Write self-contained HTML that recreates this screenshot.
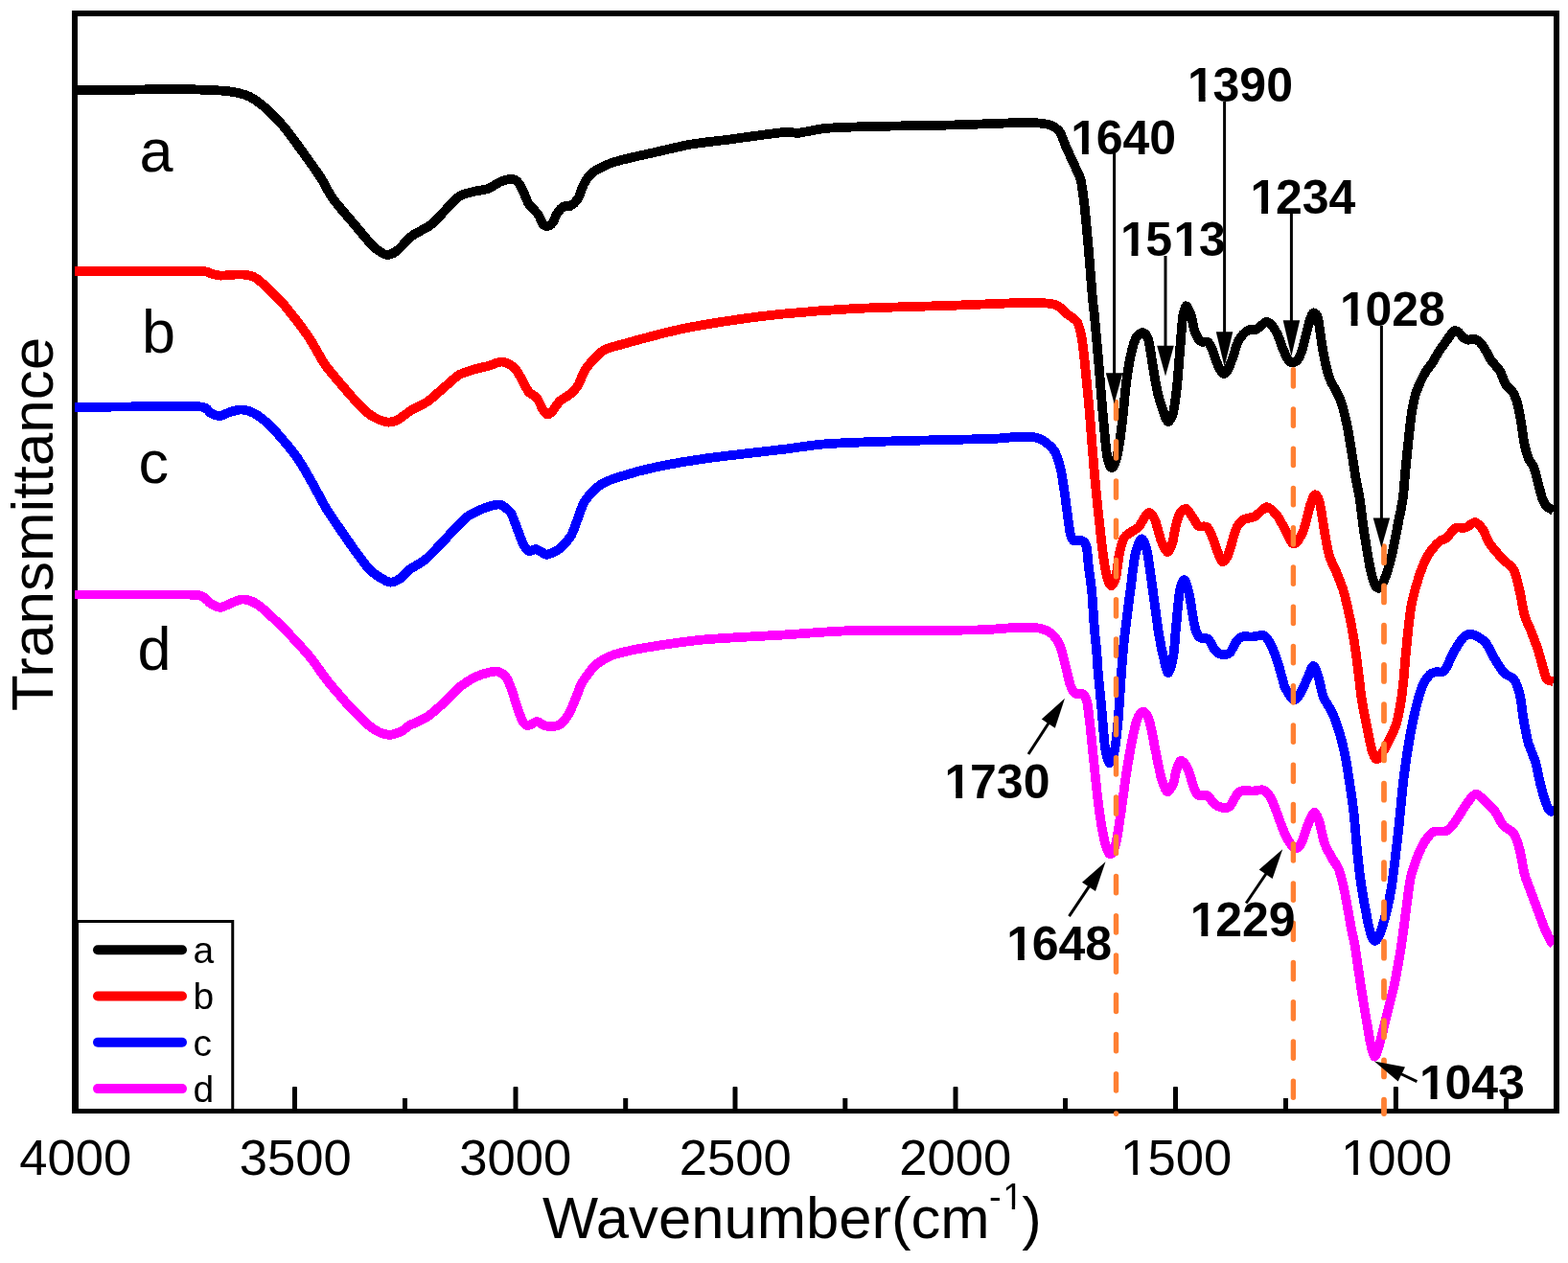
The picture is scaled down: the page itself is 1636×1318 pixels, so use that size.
<!DOCTYPE html>
<html lang="en"><head><meta charset="utf-8"><title>FTIR spectra</title>
<style>html,body{margin:0;padding:0;background:#fff;}body{width:1636px;height:1318px;overflow:hidden;}svg{display:block;}text{font-family:"Liberation Sans",sans-serif;fill:#000;}.b{font-weight:bold;font-size:50px;}.lab{font-size:63px;}.tick{font-size:52.6px;}.leg{font-size:39px;}.ax{font-size:61.6px;}.cv{fill:none;stroke-width:9.8;stroke-linejoin:round;stroke-linecap:butt;}.ar{stroke:#000;stroke-width:3;fill:none;}</style></head><body>
<svg width="1636" height="1318" viewBox="0 0 1636 1318" role="img" aria-label="FTIR transmittance spectra a-d versus wavenumber">
<defs><clipPath id="cp"><rect x="77.7" y="14" width="1543.6" height="1146"/></clipPath><clipPath id="ft"><path clip-rule="evenodd" d="M0 0H1636V1318H0ZM1119.40 154.70H1128.92V162.10H1119.40ZM1135.80 154.70H1144.70V162.10H1135.80ZM1241.20 100.40H1250.72V107.80H1241.20ZM1257.60 100.40H1266.50V107.80H1257.60ZM1171.00 261.40H1180.52V268.80H1171.00ZM1187.40 261.40H1196.30V268.80H1187.40ZM1226.63 261.40H1236.14V268.80H1226.63ZM1243.03 261.40H1251.92V268.80H1243.03ZM1306.60 216.70H1316.12V224.10H1306.60ZM1323.00 216.70H1331.90V224.10H1323.00ZM1400.10 333.60H1409.62V341.00H1400.10ZM1416.50 333.60H1425.40V341.00H1416.50ZM987.70 827.30H997.22V834.70H987.70ZM1004.10 827.30H1013.00V834.70H1004.10ZM1052.40 996.20H1061.92V1003.60H1052.40ZM1068.80 996.20H1077.70V1003.60H1068.80ZM1243.90 970.90H1253.42V978.30H1243.90ZM1260.30 970.90H1269.20V978.30H1260.30ZM1483.10 1141.50H1492.62V1148.90H1483.10ZM1499.50 1141.50H1508.40V1148.90H1499.50ZM1172.08 1221.65H1182.33V1227.90H1172.08ZM1186.96 1221.65H1196.78V1227.90H1186.96ZM1401.98 1221.65H1412.23V1227.90H1401.98ZM1416.86 1221.65H1426.68V1227.90H1416.86ZM1048.12 1258.35H1055.75V1263.50H1048.12ZM1059.10 1258.35H1066.41V1263.50H1059.10Z"/></clipPath></defs>
<rect x="0" y="0" width="1636" height="1318" fill="#fff"/>
<rect x="80.5" y="961.5" width="162.25" height="198" fill="none" stroke="#000" stroke-width="3"/>
<line x1="102" y1="991.2" x2="190" y2="991.2" stroke="#000000" stroke-width="10" stroke-linecap="round"/>
<text class="leg" x="201.4" y="1005.0">a</text>
<line x1="102" y1="1039.5" x2="190" y2="1039.5" stroke="#FF0000" stroke-width="10" stroke-linecap="round"/>
<text class="leg" x="201.4" y="1053.3">b</text>
<line x1="102" y1="1087.8" x2="190" y2="1087.8" stroke="#0000FF" stroke-width="10" stroke-linecap="round"/>
<text class="leg" x="201.4" y="1101.6">c</text>
<line x1="102" y1="1136.1" x2="190" y2="1136.1" stroke="#FF00FF" stroke-width="10" stroke-linecap="round"/>
<text class="leg" x="201.4" y="1149.9">d</text>
<rect x="305.0" y="1134" width="5" height="25" rx="1" fill="#000"/>
<rect x="535.5" y="1134" width="5" height="25" rx="1" fill="#000"/>
<rect x="764.5" y="1134" width="5" height="25" rx="1" fill="#000"/>
<rect x="994.5" y="1134" width="5" height="25" rx="1" fill="#000"/>
<rect x="1224.0" y="1134" width="5" height="25" rx="1" fill="#000"/>
<rect x="1453.9" y="1134" width="5" height="25" rx="1" fill="#000"/>
<rect x="420.0" y="1146" width="5" height="13" fill="#000"/>
<rect x="650.2" y="1146" width="5" height="13" fill="#000"/>
<rect x="879.3" y="1146" width="5" height="13" fill="#000"/>
<rect x="1109.0" y="1146" width="5" height="13" fill="#000"/>
<rect x="1339.0" y="1146" width="5" height="13" fill="#000"/>
<rect x="1569.0" y="1146" width="5" height="13" fill="#000"/>
<path fill="#000" fill-rule="evenodd" d="M75 11H1627V1162H75ZM81 17H1621V1157H81Z"/>
<g clip-path="url(#cp)" shape-rendering="crispEdges">
<path class="cv" stroke="#000000" d="M78.0 94.3C83.6 94.3 105.7 94.2 120.0 94.0C134.3 93.8 170.3 92.9 185.0 93.0C199.7 93.1 222.0 94.1 230.0 94.5C238.0 94.9 241.0 95.5 245.0 96.3C249.0 97.1 256.0 98.7 260.0 100.7C264.0 102.7 270.3 107.0 275.0 111.0C279.7 115.0 289.7 124.8 295.0 131.0C300.3 137.2 309.7 150.2 315.0 157.5C320.3 164.8 330.7 179.3 335.0 186.0C339.3 192.7 342.5 200.6 347.5 207.5C352.5 214.4 367.2 231.2 372.5 237.5C377.8 243.8 384.2 251.6 387.5 255.0C390.8 258.4 394.7 261.5 397.0 263.0C399.3 264.5 402.6 266.3 405.0 266.0C407.4 265.7 411.7 263.7 415.0 261.0C418.3 258.3 425.5 249.5 430.0 246.0C434.5 242.5 444.5 238.5 449.0 235.0C453.5 231.5 460.0 224.0 464.0 220.0C468.0 216.0 475.0 207.7 479.0 205.0C483.0 202.3 490.0 201.1 494.0 200.0C498.0 198.9 505.3 198.3 509.0 197.0C512.7 195.7 518.5 191.3 521.5 190.0C524.5 188.7 529.2 187.2 531.5 187.0C533.8 186.8 537.2 187.3 539.0 188.8C540.8 190.2 543.3 194.3 545.0 197.5C546.7 200.7 549.3 209.0 551.5 212.5C553.7 216.0 559.5 220.9 561.5 223.8C563.5 226.6 565.2 232.1 566.5 233.8C567.8 235.4 570.2 236.2 571.5 236.0C572.8 235.8 575.2 234.3 576.5 232.5C577.8 230.7 580.0 224.8 581.5 222.5C583.0 220.2 586.2 216.5 588.0 215.5C589.8 214.5 593.0 216.1 595.0 215.0C597.0 213.9 601.1 210.5 603.0 207.5C604.9 204.5 607.2 195.9 609.0 192.5C610.8 189.1 613.8 184.2 616.5 181.8C619.2 179.2 625.0 175.7 629.0 173.8C633.0 171.8 639.2 169.5 646.5 167.5C653.8 165.5 674.0 161.0 684.0 158.8C694.0 156.5 711.5 152.2 721.5 150.5C731.5 148.8 746.1 147.4 759.0 145.8C771.9 144.1 808.1 138.9 818.0 138.0C827.9 137.1 827.0 139.3 833.0 138.8C839.0 138.2 851.7 134.7 863.0 133.8C874.3 132.8 900.7 132.2 918.0 131.8C935.3 131.3 974.3 131.0 993.0 130.5C1011.7 130.0 1046.3 128.6 1058.0 128.2C1069.7 128.0 1075.5 128.0 1080.5 128.2C1085.5 128.6 1092.2 129.3 1095.5 130.5C1098.8 131.7 1103.2 134.2 1105.5 137.5C1107.8 140.8 1111.0 150.5 1113.0 155.0C1115.0 159.5 1118.6 166.9 1120.5 171.2C1122.4 175.6 1126.1 182.3 1127.5 187.5C1128.9 192.7 1130.2 203.7 1131.0 210.0C1131.8 216.3 1132.7 226.7 1133.5 235.0C1134.3 243.3 1136.0 262.5 1136.8 272.5C1137.6 282.5 1139.1 301.9 1139.8 310.0C1140.5 318.1 1141.4 323.5 1142.3 333.3C1143.2 343.1 1145.6 370.0 1146.7 383.3C1147.8 396.6 1149.7 421.1 1150.8 433.3C1151.9 445.5 1153.8 467.7 1155.0 475.0C1156.2 482.3 1158.6 488.3 1160.0 488.3C1161.4 488.3 1164.4 481.2 1165.8 475.0C1167.2 468.8 1169.6 451.7 1170.8 441.7C1172.0 431.7 1173.8 409.6 1175.0 400.0C1176.2 390.4 1178.6 376.4 1180.0 370.0C1181.4 363.6 1184.1 354.7 1185.8 351.7C1187.5 348.7 1190.8 346.8 1192.5 347.2C1194.2 347.6 1197.0 350.6 1198.3 355.0C1199.6 359.4 1201.3 372.9 1202.5 380.0C1203.7 387.1 1206.1 401.9 1207.5 408.3C1208.9 414.7 1211.8 424.1 1213.3 428.3C1214.8 432.5 1217.2 439.8 1218.7 440.0C1220.2 440.2 1222.9 435.3 1224.2 430.0C1225.5 424.7 1227.3 409.6 1228.3 400.0C1229.3 390.4 1230.9 367.6 1231.7 358.3C1232.5 349.0 1233.4 335.2 1234.2 330.0C1235.0 324.8 1236.4 319.4 1237.5 319.2C1238.6 319.0 1241.4 325.1 1242.5 328.3C1243.6 331.5 1244.8 340.0 1245.8 343.3C1246.8 346.6 1248.9 351.5 1250.0 353.3C1251.1 355.1 1252.9 356.2 1254.2 356.7C1255.5 357.2 1258.7 355.8 1260.0 356.7C1261.3 357.6 1263.1 360.9 1264.2 363.3C1265.3 365.7 1267.2 372.1 1268.3 375.0C1269.4 377.9 1271.4 383.0 1272.5 385.0C1273.6 387.0 1275.5 390.0 1276.7 390.0C1277.9 390.0 1280.4 387.4 1281.7 385.0C1283.0 382.6 1285.4 375.5 1286.7 371.7C1288.0 367.9 1290.4 359.7 1291.7 356.7C1293.0 353.7 1295.2 350.9 1296.7 349.2C1298.2 347.5 1301.4 344.9 1303.3 344.2C1305.2 343.5 1309.0 344.4 1310.8 343.7C1312.6 343.0 1315.3 340.3 1316.7 339.2C1318.1 338.1 1319.9 335.7 1321.3 335.8C1322.7 335.9 1325.9 338.1 1327.5 340.0C1329.1 341.9 1331.9 346.9 1333.3 350.0C1334.7 353.1 1337.0 360.1 1338.3 363.3C1339.6 366.5 1342.0 372.2 1343.3 374.2C1344.6 376.2 1346.8 378.2 1348.3 378.3C1349.8 378.4 1352.7 377.0 1354.2 375.0C1355.7 373.0 1358.0 367.1 1359.2 363.3C1360.4 359.5 1362.2 350.9 1363.3 346.7C1364.4 342.5 1366.5 334.4 1367.5 331.7C1368.5 329.0 1369.8 326.3 1370.8 326.3C1371.8 326.3 1374.0 328.1 1375.0 331.7C1376.0 335.3 1377.4 347.8 1378.3 353.3C1379.2 358.8 1380.6 368.0 1381.7 373.3C1382.8 378.6 1385.2 388.8 1386.7 393.3C1388.2 397.8 1391.6 403.4 1393.3 407.0C1395.0 410.6 1397.9 415.1 1399.5 420.0C1401.1 424.9 1404.0 436.7 1405.5 444.0C1407.0 451.3 1409.6 467.5 1410.8 475.0C1412.0 482.5 1413.7 494.3 1414.7 500.0C1415.7 505.7 1417.1 510.2 1418.2 517.5C1419.4 524.8 1421.8 545.0 1423.2 555.0C1424.8 565.0 1428.0 585.2 1429.5 592.5C1431.0 599.8 1433.2 607.2 1434.5 610.0C1435.8 612.8 1437.7 614.4 1439.0 613.8C1440.3 613.1 1442.8 609.5 1444.5 605.0C1446.2 600.5 1450.0 588.3 1452.0 580.0C1454.0 571.7 1457.9 550.5 1459.5 542.5C1461.1 534.5 1462.9 526.5 1463.8 519.7C1464.7 512.9 1465.5 499.9 1466.3 491.7C1467.1 483.5 1468.8 466.5 1469.7 458.3C1470.6 450.1 1471.9 436.7 1473.0 430.0C1474.1 423.3 1476.2 413.6 1478.0 408.3C1479.8 403.0 1484.1 394.0 1486.3 390.0C1488.5 386.0 1492.7 381.4 1494.7 378.3C1496.7 375.2 1499.3 369.8 1501.3 366.7C1503.3 363.6 1507.7 357.8 1509.7 355.0C1511.7 352.2 1514.8 347.0 1516.3 345.8C1517.8 344.6 1519.8 345.4 1521.3 346.3C1522.8 347.2 1525.7 351.4 1527.2 352.5C1528.7 353.6 1530.8 354.5 1532.2 354.7C1533.6 354.9 1536.5 353.4 1538.0 353.7C1539.5 354.0 1542.2 355.2 1543.8 356.7C1545.4 358.2 1548.0 362.3 1549.7 365.0C1551.4 367.7 1554.3 373.8 1556.3 376.7C1558.3 379.6 1562.7 383.4 1564.7 386.7C1566.7 390.0 1569.4 398.6 1571.3 401.7C1573.2 404.8 1577.1 407.1 1578.8 410.0C1580.5 412.9 1582.7 419.1 1583.8 423.3C1584.9 427.5 1586.3 436.4 1587.2 441.7C1588.1 447.0 1589.5 458.4 1590.5 463.3C1591.5 468.2 1593.4 475.0 1594.7 478.3C1596.0 481.6 1599.1 484.5 1600.5 488.3C1601.9 492.1 1604.4 502.5 1605.5 506.7C1606.6 510.9 1608.0 516.9 1609.0 519.7C1610.0 522.5 1611.7 526.2 1613.2 528.0C1614.8 529.8 1620.0 532.3 1621.0 533.0"/>
<path class="cv" stroke="#FF0000" d="M78.0 283.0C88.9 283.0 142.3 282.7 160.0 282.7C177.7 282.7 203.0 282.6 211.0 283.0C219.0 283.4 217.5 284.9 220.0 285.5C222.5 286.1 227.1 287.4 229.8 287.6C232.5 287.8 237.5 287.2 240.0 287.0C242.5 286.8 245.9 286.4 248.3 286.4C250.7 286.4 255.4 286.5 258.0 287.0C260.6 287.5 263.9 287.9 267.5 290.5C271.1 293.1 280.7 302.0 285.0 306.2C289.3 310.5 295.0 316.3 300.0 322.5C305.0 328.7 317.3 344.8 322.5 352.5C327.7 360.2 334.4 373.7 338.8 380.0C343.1 386.3 350.5 394.7 355.0 400.0C359.5 405.3 368.2 415.5 372.5 420.0C376.8 424.5 383.3 431.0 387.5 433.8C391.7 436.5 400.1 439.9 403.8 440.5C407.4 441.1 411.5 439.7 415.0 438.0C418.5 436.3 425.8 430.1 430.0 427.5C434.2 424.9 442.0 421.9 446.5 418.8C451.0 415.6 459.7 407.4 464.0 403.8C468.3 400.1 474.7 393.8 479.0 391.2C483.3 388.8 492.5 386.2 496.5 385.0C500.5 383.8 505.3 383.0 509.0 382.0C512.7 381.0 520.3 377.3 524.0 377.5C527.7 377.7 533.8 381.4 536.5 383.8C539.2 386.1 542.0 391.7 544.0 395.0C546.0 398.3 549.4 406.1 551.5 408.8C553.6 411.4 558.0 412.5 560.0 415.0C562.0 417.5 565.0 425.2 566.5 427.5C568.0 429.8 570.2 432.3 571.5 432.5C572.8 432.7 574.8 430.6 576.5 428.8C578.2 426.9 581.5 421.1 584.0 418.8C586.5 416.4 592.5 413.4 595.0 411.2C597.5 409.1 601.1 405.5 603.0 402.5C604.9 399.5 607.4 391.8 609.0 388.8C610.6 385.8 612.3 383.0 615.0 380.0C617.7 377.0 624.8 368.7 629.0 366.0C633.2 363.3 635.8 363.0 646.5 360.0C657.2 357.0 694.0 347.1 709.0 343.8C724.0 340.4 744.5 337.2 759.0 335.0C773.5 332.8 800.1 329.2 818.0 327.5C835.9 325.8 869.7 323.2 893.0 322.0C916.3 320.8 971.0 319.5 993.0 318.8C1015.0 318.0 1045.3 316.6 1058.0 316.2C1070.7 315.9 1082.0 315.9 1088.0 316.2C1094.0 316.6 1099.7 317.2 1103.0 318.8C1106.3 320.2 1110.2 325.2 1113.0 327.5C1115.8 329.8 1121.9 332.6 1124.0 336.2C1126.1 339.9 1127.9 348.5 1129.0 355.0C1130.1 361.5 1131.5 375.0 1132.5 385.0C1133.5 395.0 1135.5 415.7 1136.8 430.0C1138.0 444.3 1140.4 477.5 1141.8 492.5C1143.1 507.5 1145.4 530.2 1146.8 542.5C1148.1 554.8 1150.6 576.9 1151.8 585.0C1152.9 593.1 1154.5 600.0 1155.5 603.5C1156.5 607.0 1158.2 611.3 1159.4 611.2C1160.6 611.1 1163.1 607.0 1164.2 602.5C1165.4 598.0 1166.8 583.0 1168.0 577.5C1169.2 572.0 1171.3 564.2 1173.0 561.2C1174.7 558.2 1178.5 556.5 1180.5 555.0C1182.5 553.5 1186.2 552.0 1188.0 550.0C1189.8 548.0 1192.8 542.0 1194.2 540.0C1195.8 538.0 1197.8 534.7 1199.2 535.0C1200.7 535.3 1203.3 538.5 1205.0 542.5C1206.7 546.5 1210.0 560.5 1211.8 565.0C1213.5 569.5 1216.5 575.9 1218.0 576.2C1219.5 576.6 1221.8 571.3 1223.0 567.5C1224.2 563.7 1225.8 552.5 1227.0 548.0C1228.2 543.5 1230.5 536.2 1232.0 534.0C1233.5 531.8 1236.6 530.5 1238.2 531.2C1239.9 532.0 1242.8 537.6 1244.5 540.0C1246.2 542.4 1248.8 547.9 1250.8 549.2C1252.8 550.6 1257.5 548.2 1259.5 550.0C1261.5 551.8 1264.1 558.5 1265.8 562.5C1267.4 566.5 1270.6 576.8 1272.0 580.0C1273.4 583.2 1274.9 586.6 1276.2 586.2C1277.6 585.9 1280.2 582.0 1282.0 577.5C1283.8 573.0 1287.5 557.2 1289.5 552.5C1291.5 547.8 1294.3 544.3 1297.0 542.5C1299.7 540.7 1306.2 540.5 1309.5 538.8C1312.8 537.0 1318.5 529.4 1321.5 529.2C1324.5 529.1 1329.6 534.7 1332.0 537.5C1334.4 540.3 1337.2 546.0 1339.5 550.0C1341.8 554.0 1346.8 566.8 1349.5 567.5C1352.2 568.2 1357.2 560.3 1359.5 555.0C1361.8 549.7 1365.3 532.7 1367.0 527.5C1368.7 522.3 1370.7 516.6 1372.0 516.2C1373.3 515.9 1375.7 519.8 1377.0 525.0C1378.3 530.2 1380.7 547.7 1382.0 555.0C1383.3 562.3 1385.3 574.3 1387.0 580.0C1388.7 585.7 1392.5 592.5 1394.5 597.5C1396.5 602.5 1400.0 610.5 1402.0 617.5C1404.0 624.5 1407.8 641.7 1409.5 650.0C1411.2 658.3 1413.3 672.1 1414.5 680.0C1415.7 687.9 1417.4 702.3 1418.2 709.0C1419.1 715.7 1419.6 722.9 1420.8 730.0C1421.9 737.1 1425.5 755.2 1427.0 762.5C1428.5 769.8 1430.7 781.0 1432.0 785.0C1433.3 789.0 1435.2 792.3 1436.5 792.5C1437.8 792.7 1440.3 788.9 1442.0 786.2C1443.7 783.6 1447.5 776.7 1449.5 772.5C1451.5 768.3 1455.3 760.7 1457.0 755.0C1458.7 749.3 1461.0 736.1 1462.0 730.0C1463.0 723.9 1463.8 715.7 1464.5 709.0C1465.2 702.3 1466.0 689.9 1467.0 680.0C1468.0 670.1 1470.3 645.0 1472.0 635.0C1473.7 625.0 1477.2 612.3 1479.5 605.0C1481.8 597.7 1486.5 585.3 1489.5 580.0C1492.5 574.7 1499.3 567.5 1502.0 565.0C1504.7 562.5 1507.3 563.1 1509.5 561.2C1511.7 559.4 1515.6 552.7 1518.2 551.2C1520.9 549.8 1526.7 551.3 1529.5 550.5C1532.3 549.7 1536.7 544.7 1539.0 545.0C1541.3 545.3 1544.9 549.5 1547.0 552.5C1549.1 555.5 1551.8 563.5 1554.5 567.5C1557.2 571.5 1563.7 578.8 1567.0 582.5C1570.3 586.2 1577.0 590.3 1579.5 595.0C1582.0 599.7 1584.2 611.2 1585.8 617.5C1587.2 623.8 1589.2 637.2 1590.8 642.5C1592.2 647.8 1595.2 652.8 1597.0 657.5C1598.8 662.2 1602.8 672.2 1604.5 677.5C1606.2 682.8 1608.7 692.8 1610.0 697.0C1611.3 701.2 1612.5 706.9 1614.0 708.8C1615.5 710.6 1620.1 710.9 1621.0 711.2"/>
<path class="cv" stroke="#0000FF" d="M78.0 425.0C88.9 424.9 142.4 424.3 160.0 424.2C177.6 424.2 202.0 423.6 210.0 424.5C218.0 425.4 217.3 430.0 220.0 431.2C222.7 432.5 227.3 434.2 230.0 434.0C232.7 433.8 237.0 430.9 240.0 430.0C243.0 429.1 249.2 427.3 252.5 427.5C255.8 427.7 261.3 429.2 265.0 431.2C268.7 433.2 276.0 438.8 280.0 442.5C284.0 446.2 291.0 454.1 295.0 458.8C299.0 463.4 306.0 471.7 310.0 477.5C314.0 483.3 321.0 495.5 325.0 502.5C329.0 509.5 336.0 523.3 340.0 530.0C344.0 536.7 350.7 546.2 355.0 552.5C359.3 558.8 368.2 571.7 372.5 577.5C376.8 583.3 383.0 592.2 387.5 596.2C392.0 600.2 402.2 606.5 406.2 607.5C410.2 608.5 414.8 605.4 417.5 603.8C420.2 602.1 423.0 597.7 426.5 595.0C430.0 592.3 439.7 587.2 444.0 583.8C448.3 580.2 455.0 572.9 459.0 568.8C463.0 564.6 470.3 556.3 474.0 552.5C477.7 548.7 483.2 542.6 486.5 540.0C489.8 537.4 495.3 534.7 499.0 533.0C502.7 531.3 510.8 528.3 514.0 527.5C517.2 526.7 520.2 526.0 522.8 527.0C525.2 528.0 530.6 531.9 532.8 535.0C534.9 538.1 537.3 545.8 539.0 550.0C540.7 554.2 543.6 562.9 545.2 566.2C546.9 569.6 549.7 574.1 551.5 575.0C553.3 575.9 557.2 572.8 559.0 573.0C560.8 573.2 563.6 575.5 565.2 576.2C566.9 577.0 568.5 579.2 571.0 578.8C573.5 578.2 580.8 575.0 584.0 572.5C587.2 570.0 592.9 563.7 595.2 560.0C597.6 556.3 599.7 549.7 601.5 545.0C603.3 540.3 606.7 529.3 609.0 525.0C611.3 520.7 616.3 515.2 619.0 512.5C621.7 509.8 625.3 506.5 629.0 504.5C632.7 502.5 639.2 499.8 646.5 497.5C653.8 495.2 672.3 490.0 684.0 487.5C695.7 485.0 716.1 481.2 734.0 478.8C751.9 476.2 800.8 470.8 818.0 468.8C835.2 466.7 846.3 464.4 863.0 463.2C879.7 462.1 920.3 460.7 943.0 460.0C965.7 459.3 1017.7 458.5 1033.0 458.0C1048.3 457.5 1051.7 456.4 1058.0 456.2C1064.3 456.1 1076.2 455.8 1080.5 456.5C1084.8 457.2 1087.8 459.3 1090.5 461.2C1093.2 463.2 1098.3 467.4 1100.5 471.2C1102.7 475.1 1105.4 484.5 1106.8 490.0C1108.1 495.5 1109.5 505.8 1110.5 512.5C1111.5 519.2 1113.4 534.0 1114.2 540.0C1115.1 546.0 1115.9 554.2 1116.8 557.5C1117.6 560.8 1119.0 563.7 1120.5 564.5C1122.0 565.3 1126.3 563.0 1128.0 563.8C1129.7 564.5 1132.4 566.2 1133.5 570.0C1134.6 573.8 1135.2 586.2 1136.0 592.5C1136.8 598.8 1138.5 609.2 1139.2 617.5C1140.0 625.8 1141.1 646.7 1141.8 655.0C1142.4 663.3 1143.7 673.3 1144.2 680.0C1144.8 686.7 1145.3 697.3 1146.0 705.0C1146.7 712.7 1148.3 727.5 1149.2 737.5C1150.2 747.5 1151.9 772.2 1153.0 780.0C1154.1 787.8 1156.2 795.9 1157.5 796.2C1158.8 796.6 1161.8 788.7 1163.0 782.5C1164.2 776.3 1165.9 759.8 1166.8 750.0C1167.6 740.2 1168.7 720.0 1169.5 709.0C1170.3 698.0 1171.7 679.7 1173.0 667.5C1174.3 655.3 1177.8 629.2 1179.2 617.5C1180.8 605.8 1182.7 587.3 1184.2 580.0C1185.8 572.7 1189.3 563.2 1191.0 562.5C1192.7 561.8 1195.2 567.7 1196.8 575.0C1198.3 582.3 1201.3 605.8 1203.0 617.5C1204.7 629.2 1207.6 652.5 1209.2 662.5C1210.9 672.5 1214.2 687.2 1215.5 692.5C1216.8 697.8 1218.1 703.0 1219.2 702.0C1220.4 701.0 1223.2 691.3 1224.2 685.0C1225.3 678.7 1226.1 664.0 1227.0 655.0C1227.9 646.0 1229.6 624.2 1230.8 617.5C1231.9 610.8 1234.4 604.7 1235.8 605.0C1237.1 605.3 1239.4 614.0 1240.8 620.0C1242.1 626.0 1244.6 644.3 1245.8 650.0C1246.9 655.7 1248.3 660.3 1249.5 662.5C1250.7 664.7 1253.0 665.7 1254.5 666.2C1256.0 666.8 1259.1 665.2 1260.8 666.8C1262.4 668.2 1265.2 675.3 1267.0 677.5C1268.8 679.7 1272.3 682.5 1274.5 683.0C1276.7 683.5 1281.2 683.0 1283.2 681.2C1285.2 679.5 1287.8 672.2 1289.5 670.0C1291.2 667.8 1293.4 665.2 1295.8 664.5C1298.1 663.8 1304.0 664.7 1307.0 664.5C1310.0 664.3 1315.9 662.3 1318.2 663.0C1320.6 663.7 1322.7 666.7 1324.5 670.0C1326.3 673.3 1330.2 682.3 1332.0 687.5C1333.8 692.7 1337.1 705.0 1338.2 709.0C1339.4 713.0 1339.2 714.7 1340.8 717.5C1342.2 720.3 1347.5 729.0 1349.5 730.0C1351.5 731.0 1353.9 727.7 1355.8 725.0C1357.6 722.3 1361.3 714.0 1363.2 710.0C1365.2 706.0 1368.6 695.3 1370.2 695.0C1371.9 694.7 1374.3 703.2 1375.8 707.5C1377.2 711.8 1378.9 722.8 1380.8 727.5C1382.6 732.2 1387.3 737.8 1389.5 742.5C1391.7 747.2 1395.2 756.5 1397.0 762.5C1398.8 768.5 1401.8 780.2 1403.2 787.5C1404.8 794.8 1407.0 809.2 1408.2 817.5C1409.5 825.8 1411.7 840.7 1412.7 850.0C1413.7 859.3 1415.0 877.5 1416.0 887.5C1417.0 897.5 1419.1 915.7 1420.5 925.0C1421.9 934.3 1425.0 950.8 1426.3 957.5C1427.6 964.2 1429.2 971.7 1430.3 975.0C1431.4 978.3 1433.4 982.0 1434.6 982.0C1435.8 982.0 1437.8 979.3 1439.5 975.0C1441.2 970.7 1445.3 956.7 1447.0 950.0C1448.7 943.3 1450.8 932.3 1452.0 925.0C1453.2 917.7 1454.8 903.3 1455.8 895.0C1456.8 886.7 1458.3 873.5 1459.5 862.5C1460.7 851.5 1463.0 824.8 1464.5 812.5C1466.0 800.2 1469.1 779.7 1470.8 770.0C1472.4 760.3 1475.2 747.3 1477.0 740.0C1478.8 732.7 1482.5 719.8 1484.5 715.0C1486.5 710.2 1490.2 705.6 1492.0 703.8C1493.8 701.9 1496.2 701.8 1498.2 701.2C1500.2 700.8 1504.5 702.8 1507.0 700.0C1509.5 697.2 1514.3 684.7 1517.0 680.0C1519.7 675.3 1524.5 667.4 1527.0 665.0C1529.5 662.6 1532.8 661.3 1535.8 662.0C1538.8 662.7 1546.3 666.6 1549.5 670.0C1552.7 673.4 1556.8 683.2 1559.5 687.5C1562.2 691.8 1566.8 699.7 1569.5 702.5C1572.2 705.3 1577.3 705.8 1579.5 708.8C1581.7 711.8 1584.4 719.5 1585.8 725.0C1587.1 730.5 1588.3 743.3 1589.5 750.0C1590.7 756.7 1592.8 769.0 1594.5 775.0C1596.2 781.0 1600.3 789.3 1602.0 795.0C1603.7 800.7 1605.7 812.2 1607.0 817.5C1608.3 822.8 1610.7 831.2 1612.0 835.0C1613.3 838.8 1615.8 844.8 1617.0 846.2C1618.2 847.8 1620.5 846.2 1621.0 846.2"/>
<path class="cv" stroke="#FF00FF" d="M78.0 620.5C88.9 620.5 142.7 620.4 160.0 620.5C177.3 620.6 199.5 620.0 207.5 621.2C215.5 622.5 217.0 628.3 220.0 630.0C223.0 631.7 227.3 633.8 230.0 633.8C232.7 633.8 237.0 631.1 240.0 630.0C243.0 628.9 248.8 625.5 252.5 625.5C256.2 625.5 263.2 627.4 267.5 630.0C271.8 632.6 280.0 640.3 285.0 645.0C290.0 649.7 299.7 659.3 305.0 665.0C310.3 670.7 320.7 682.2 325.0 687.5C329.3 692.8 334.5 701.0 337.5 705.0C340.5 709.0 343.8 713.2 347.5 717.5C351.2 721.8 360.3 732.5 365.0 737.5C369.7 742.5 378.5 751.5 382.5 755.0C386.5 758.5 391.7 762.2 395.0 763.8C398.3 765.3 404.2 766.9 407.5 766.8C410.8 766.6 417.5 763.7 420.0 762.5C422.5 761.3 423.0 759.5 426.5 757.5C430.0 755.5 441.5 750.8 446.5 747.5C451.5 744.2 459.7 736.5 464.0 732.5C468.3 728.5 475.0 720.8 479.0 717.5C483.0 714.2 490.0 709.6 494.0 707.5C498.0 705.4 505.7 702.9 509.0 702.0C512.3 701.1 516.5 700.2 519.0 700.8C521.5 701.3 525.8 703.7 527.8 706.2C529.8 708.8 532.3 715.5 534.0 720.0C535.7 724.5 538.6 735.5 540.2 740.0C541.9 744.5 544.5 751.5 546.0 753.8C547.5 756.0 549.6 757.1 551.5 757.0C553.4 756.9 558.1 753.0 560.2 753.0C562.4 753.0 565.6 756.3 567.8 757.0C569.9 757.7 574.3 758.1 576.5 758.0C578.7 757.9 581.8 757.8 584.0 756.2C586.2 754.7 590.6 749.8 592.8 746.2C594.9 742.8 598.4 734.3 600.2 730.0C602.1 725.7 604.5 717.6 606.5 713.8C608.5 709.9 613.2 703.9 615.2 701.2C617.2 698.6 618.3 696.1 621.5 693.8C624.7 691.4 632.3 686.1 639.0 683.8C645.7 681.4 658.8 678.4 671.5 676.2C684.2 674.1 714.5 669.3 734.0 667.5C753.5 665.7 796.8 663.8 818.0 662.5C839.2 661.2 866.3 658.7 893.0 658.0C919.7 657.3 996.0 657.9 1018.0 657.5C1040.0 657.1 1049.7 655.3 1058.0 655.0C1066.3 654.7 1075.5 654.3 1080.5 655.0C1085.5 655.7 1092.2 657.7 1095.5 660.0C1098.8 662.3 1103.3 667.8 1105.5 672.5C1107.7 677.2 1110.2 689.3 1111.8 695.0C1113.2 700.7 1115.4 711.2 1116.8 715.0C1118.1 718.8 1120.1 722.6 1121.8 723.8C1123.4 724.9 1127.6 722.6 1129.2 723.8C1130.9 724.9 1133.1 727.3 1134.2 732.5C1135.4 737.7 1137.0 753.5 1138.0 762.5C1139.0 771.5 1140.6 789.0 1141.8 800.0C1142.9 811.0 1145.4 835.0 1146.8 845.0C1148.1 855.0 1150.6 869.3 1151.8 875.0C1152.9 880.7 1154.5 885.3 1155.5 887.5C1156.5 889.7 1158.1 892.2 1159.2 891.2C1160.4 890.2 1162.9 885.5 1164.2 880.0C1165.6 874.5 1167.8 860.0 1169.2 850.0C1170.8 840.0 1173.8 815.7 1175.5 805.0C1177.2 794.3 1180.2 777.3 1181.8 770.0C1183.2 762.7 1185.2 753.7 1186.8 750.0C1188.2 746.3 1191.3 742.2 1193.0 742.5C1194.7 742.8 1197.6 747.2 1199.2 752.5C1200.9 757.8 1203.8 774.5 1205.5 782.5C1207.2 790.5 1210.1 806.7 1211.8 812.5C1213.4 818.3 1216.3 825.6 1218.0 826.2C1219.7 826.9 1223.0 820.3 1224.2 817.5C1225.5 814.7 1226.0 808.2 1227.0 805.0C1228.0 801.8 1230.3 794.1 1232.0 793.8C1233.7 793.4 1237.7 798.7 1239.5 802.5C1241.3 806.3 1244.2 818.8 1245.8 822.5C1247.2 826.2 1248.9 829.0 1250.8 830.0C1252.6 831.0 1257.3 828.8 1259.5 830.0C1261.7 831.2 1264.8 837.0 1267.0 838.8C1269.2 840.5 1273.6 842.7 1275.8 843.0C1277.9 843.3 1281.2 843.1 1283.2 841.2C1285.2 839.4 1288.9 830.9 1290.8 828.8C1292.6 826.6 1294.8 825.4 1297.0 825.0C1299.2 824.6 1304.2 825.6 1307.0 825.5C1309.8 825.4 1315.8 823.6 1318.2 824.5C1320.8 825.4 1323.9 829.4 1325.8 832.5C1327.6 835.6 1330.2 842.8 1332.0 847.5C1333.8 852.2 1337.5 863.0 1339.5 867.5C1341.5 872.0 1345.2 878.9 1347.0 881.2C1348.8 883.6 1351.2 885.3 1352.8 885.0C1354.2 884.7 1356.5 882.4 1358.2 878.8C1360.0 875.1 1364.0 861.7 1365.8 857.5C1367.5 853.3 1370.1 847.5 1371.5 847.5C1372.9 847.5 1375.1 853.2 1376.5 857.5C1377.9 861.8 1380.3 875.0 1382.0 880.0C1383.7 885.0 1387.5 891.3 1389.5 895.0C1391.5 898.7 1395.3 903.2 1397.0 907.5C1398.7 911.8 1401.0 921.8 1402.3 927.5C1403.6 933.2 1405.4 944.1 1406.5 950.0C1407.6 955.9 1409.6 967.5 1410.5 972.0C1411.4 976.5 1412.4 979.4 1413.1 983.5C1413.8 987.6 1415.0 996.3 1416.0 1003.0C1417.0 1009.7 1419.3 1025.0 1420.6 1033.5C1421.9 1042.0 1424.8 1059.5 1426.1 1066.9C1427.4 1074.3 1428.9 1084.2 1430.0 1089.0C1431.1 1093.8 1433.1 1102.8 1434.4 1102.8C1435.7 1102.8 1437.8 1094.8 1439.5 1089.0C1441.2 1083.2 1445.0 1067.0 1447.0 1059.0C1449.0 1051.0 1452.9 1036.2 1454.5 1029.0C1456.1 1021.8 1458.0 1010.5 1459.0 1005.0C1460.0 999.5 1460.9 994.8 1462.0 987.5C1463.1 980.2 1465.7 959.7 1467.0 950.0C1468.3 940.3 1470.3 922.7 1472.0 915.0C1473.7 907.3 1477.5 897.5 1479.5 892.5C1481.5 887.5 1484.8 880.8 1487.0 877.5C1489.2 874.2 1492.8 869.4 1495.8 868.0C1498.8 866.6 1506.5 868.4 1509.5 867.0C1512.5 865.6 1515.6 861.1 1518.2 857.5C1520.9 853.9 1526.7 843.8 1529.5 840.0C1532.3 836.2 1536.8 829.2 1539.5 828.8C1542.2 828.2 1546.8 833.9 1549.5 836.2C1552.2 838.6 1557.0 842.9 1559.5 846.2C1562.0 849.6 1565.6 858.1 1568.2 861.2C1570.9 864.4 1577.2 866.5 1579.5 870.0C1581.8 873.5 1584.2 881.8 1585.8 887.5C1587.2 893.2 1589.2 906.8 1590.8 912.5C1592.2 918.2 1595.2 925.0 1597.0 930.0C1598.8 935.0 1602.5 944.7 1604.5 950.0C1606.5 955.3 1610.2 965.7 1612.0 970.0C1613.8 974.3 1617.0 980.4 1618.2 982.5C1619.5 984.6 1620.6 985.5 1621.0 986.0"/>
</g>
<path d="M1164.50 419.40V1162.20" fill="none" stroke="#FF8033" stroke-width="5.4" stroke-linecap="round" stroke-dasharray="17.40 23.85"/>
<path d="M1349.40 385.70V1145.30" fill="none" stroke="#FF8033" stroke-width="5.4" stroke-linecap="round" stroke-dasharray="17.40 23.85"/>
<path d="M1444.00 570.20V1162.00" fill="none" stroke="#FF8033" stroke-width="5.8" stroke-linecap="round" stroke-dasharray="17.00 24.25"/>
<line class="ar" x1="1162.6" y1="160.0" x2="1162.6" y2="390.2"/><path d="M1153.8 389.2L1171.3 389.2L1162.6 421.2Z" fill="#000"/>
<line class="ar" x1="1216.0" y1="267.0" x2="1216.0" y2="361.8"/><path d="M1207.2 360.8L1224.8 360.8L1216.0 392.5Z" fill="#000"/>
<line class="ar" x1="1277.6" y1="106.0" x2="1277.6" y2="347.2"/><path d="M1268.8 346.2L1286.3 346.2L1277.6 382.7Z" fill="#000"/>
<line class="ar" x1="1347.4" y1="223.0" x2="1347.4" y2="335.2"/><path d="M1338.7 334.2L1356.2 334.2L1347.4 371.7Z" fill="#000"/>
<line class="ar" x1="1441.4" y1="340.0" x2="1441.4" y2="541.5"/><path d="M1432.7 540.5L1450.2 540.5L1441.4 571.5Z" fill="#000"/>
<line class="ar" x1="1073.0" y1="787.0" x2="1094.3" y2="754.3"/><path d="M1100.8 759.7L1086.8 750.5L1111.0 728.8Z" fill="#000"/>
<line class="ar" x1="1115.5" y1="956.2" x2="1136.6" y2="924.6"/><path d="M1143.0 930.1L1129.0 920.8L1153.5 899.2Z" fill="#000"/>
<line class="ar" x1="1300.2" y1="942.5" x2="1321.2" y2="911.5"/><path d="M1327.6 917.1L1313.7 907.6L1338.2 886.2Z" fill="#000"/>
<line class="ar" x1="1478.4" y1="1128.6" x2="1461.4" y2="1120.5"/><path d="M1466.0 1113.4L1458.7 1128.5L1433.9 1107.4Z" fill="#000"/>
<text class="b" clip-path="url(#ft)" x="1117.30 1143.71 1171.53 1199.34" y="160.6">1640</text>
<text class="b" clip-path="url(#ft)" x="1239.10 1265.51 1293.33 1321.14" y="106.3">1390</text>
<text class="b" clip-path="url(#ft)" x="1168.90 1195.31 1224.53 1250.94" y="267.3">1513</text>
<text class="b" clip-path="url(#ft)" x="1304.50 1330.91 1358.72 1386.54" y="222.6">1234</text>
<text class="b" clip-path="url(#ft)" x="1398.00 1424.41 1452.22 1480.04" y="339.5">1028</text>
<text class="b" clip-path="url(#ft)" x="985.60 1012.01 1039.83 1067.64" y="833.2">1730</text>
<text class="b" clip-path="url(#ft)" x="1050.30 1076.71 1104.53 1132.34" y="1002.1">1648</text>
<text class="b" clip-path="url(#ft)" x="1241.80 1268.21 1296.03 1323.84" y="976.8">1229</text>
<text class="b" clip-path="url(#ft)" x="1481.00 1507.41 1535.22 1563.04" y="1147.4">1043</text>
<text class="lab" x="145.5" y="179.0">a</text>
<text class="lab" x="148.0" y="368.3">b</text>
<text class="lab" x="144.6" y="504.0">c</text>
<text class="lab" x="143.6" y="699.3">d</text>
<text class="tick" clip-path="url(#ft)" x="20.18 49.44 78.70 107.96" y="1226.4">4000</text>
<text class="tick" clip-path="url(#ft)" x="249.68 278.94 308.20 337.46" y="1226.4">3500</text>
<text class="tick" clip-path="url(#ft)" x="479.28 508.54 537.80 567.06" y="1226.4">3000</text>
<text class="tick" clip-path="url(#ft)" x="708.78 738.04 767.30 796.56" y="1226.4">2500</text>
<text class="tick" clip-path="url(#ft)" x="938.28 967.54 996.80 1026.06" y="1226.4">2000</text>
<text class="tick" clip-path="url(#ft)" x="1169.08 1197.44 1226.70 1255.96" y="1226.4">1500</text>
<text class="tick" clip-path="url(#ft)" x="1398.98 1427.34 1456.60 1485.86" y="1226.4">1000</text>
<text class="ax" clip-path="url(#ft)" x="566.0" y="1292.0">Wavenumber(cm<tspan font-size="38" dy="-30" dx="-0.6">-</tspan><tspan font-size="38" dx="1.5">1</tspan><tspan dy="30" dx="-1">)</tspan></text>
<text class="ax" style="font-size:62px" transform="translate(55,742.3) rotate(-90)">Transmittance</text>
</svg></body></html>
